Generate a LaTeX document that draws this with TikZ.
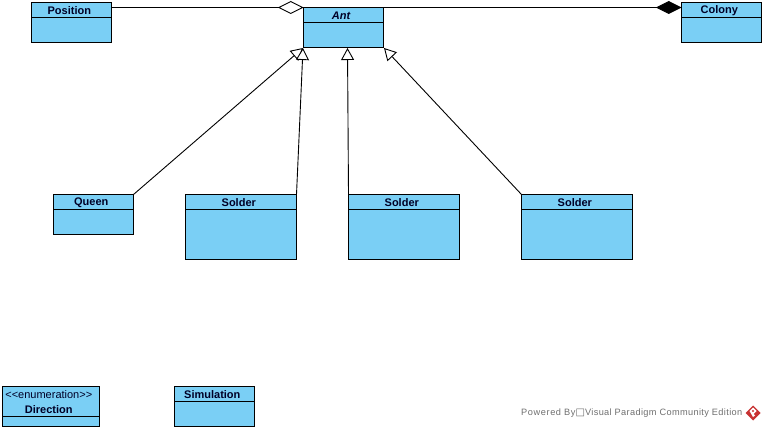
\documentclass[tikz,border=0pt]{standalone}
\usepackage{fontspec}
\setmainfont{Liberation Sans}
\newfontfamily\markfont[LetterSpace=6.5]{Liberation Sans}
\newfontfamily\markfontb[LetterSpace=4]{Liberation Sans}
\newfontfamily\boxfont{DejaVu Sans}
\usetikzlibrary{arrows.meta}
\definecolor{classblue}{RGB}{122,207,245}
\definecolor{markgrey}{RGB}{110,110,110}
\definecolor{markred}{RGB}{200,50,50}
\tikzset{
  classbox/.style={draw=black,fill=classblue,line width=1pt,inner sep=0pt,outer sep=0pt,anchor=north west},
  classname/.style={font=\fontsize{11}{15}\selectfont\bfseries,text=black!85!blue,align=center,inner sep=0pt},
  aggr/.style={line width=0.9pt,{Diamond[length=25.5pt,width=13pt,fill=white]}-},
  comp/.style={line width=0.9pt,-{Diamond[length=25.5pt,width=13pt,fill=black]}},
  inherit/.style={line width=0.9pt,-{Triangle[length=12pt,width=13pt,fill=white]}}
}

\begin{document}
\begin{tikzpicture}[x=1pt,y=-1pt]
    \useasboundingbox (0,0) rectangle (765,430);
    % name / left / top / width / height / header height / title
    \foreach \name/\x/\y/\w/\h/\hd/\txt in {
        Position/31.5/2.5/80/40/15/{Position},
        Ant/303.5/7.5/80/40/15/{\textit{Ant}},
        Colony/681.5/2.5/80/40/15/{Colony},
        Queen/53.5/194.5/80/40/15/{Queen},
        SolderA/185.5/194.5/111/65/15/{Solder},
        SolderB/348.5/194.5/111/65/15/{Solder},
        SolderC/521.5/194.5/111/65/15/{Solder},
        Direction/2.5/386.5/97/40/30/{\fontsize{11}{15}\selectfont\mdseries {<}{<}enumeration{>}{>}\\Direction},
        Simulation/174.5/386.5/80/40/15/{Simulation}} {
      \node[classbox,minimum width=\w pt,minimum height=\h pt] (\name) at (\x,\y) {};
      \draw[line width=1pt] (\x,\y+\hd) -- (\x+\w,\y+\hd);
      \node[classname] (\name Title) at (\x+\w/2-2.2,\y+\hd/2+0.7) {\txt};
    }
    % free ends on Ant for the arrow tips
    \coordinate (TipQueen) at (303,48);
    \coordinate (TipA) at (303,48);
    \coordinate (TipB) at (347.5,48);
    \coordinate (TipC) at (384,48);
    \draw[aggr] (Ant.north west) -- (Ant.north west -| Position.east);
    \draw[comp] (Ant.north east) -- (Ant.north east -| Colony.west);
    \draw[inherit] (Queen.north east) -- (TipQueen);
    \draw[inherit] (SolderA.north east) -- (TipA);
    \draw[inherit] (SolderB.north west) -- (TipB);
    \draw[inherit] (SolderC.north west) -- (TipC);
    % watermark
    \node[anchor=west,inner sep=0pt,text=markgrey,font=\fontsize{9.2}{11}\selectfont] (Mark) at (521,413.5)
      {\markfont Powered By{\boxfont\fontsize{10}{11}\selectfont □}\markfontb Visual Paradigm Community Edition};
    \fill[markred] (753,405.5) -- (760.5,413) -- (753,420.5) -- (745.5,413) -- cycle;
    \fill[white] (749.5,411) -- (753,407.5) -- (756.5,411) -- (753.5,414) -- (755,415.5) -- (753,417) -- (751,413.5) -- cycle;
    \fill[markred] (751.8,411) -- (753,409.8) -- (754.2,411) -- (753,412.2) -- cycle;
  \end{tikzpicture}
\end{document}
